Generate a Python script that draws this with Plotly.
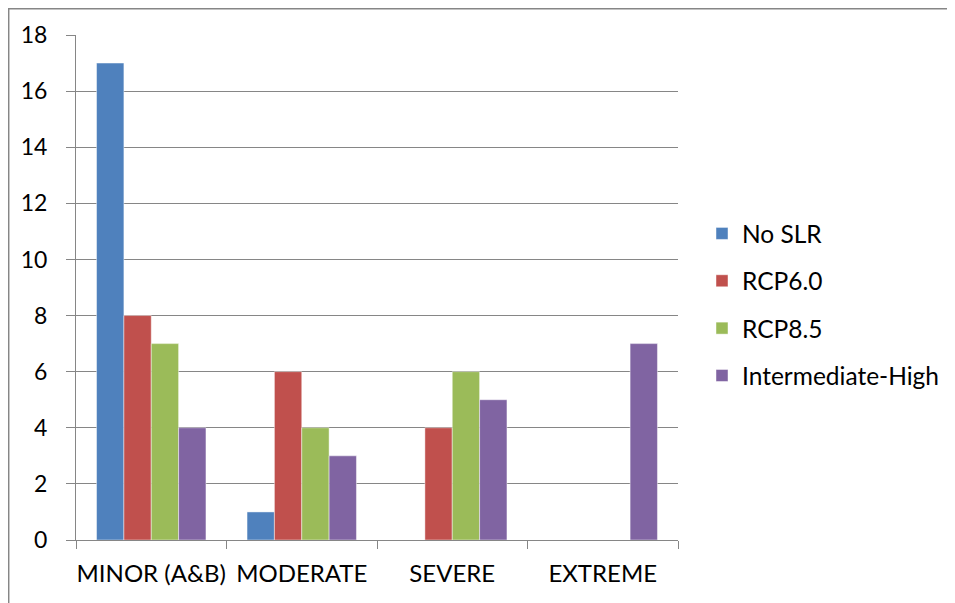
import plotly.graph_objects as go

categories = ["MINOR (A&B)", "MODERATE", "SEVERE", "EXTREME"]
series_names = ["No SLR", "RCP6.0", "RCP8.5", "Intermediate-High"]
no_slr = [17, 1, 0, 0]
rcp60 = [8, 6, 4, 0]
rcp85 = [7, 4, 6, 0]
int_high = [4, 3, 5, 7]
colors = ["#4F81BD", "#C0504D", "#9BBB59", "#8064A2"]
y_ticks = list(range(0, 19, 2))

FONT = "Lato"
fig = go.Figure()
for name, vals, col in zip(series_names, [no_slr, rcp60, rcp85, int_high], colors):
    fig.add_trace(go.Bar(
        x=categories, y=vals, name=name, legendgroup=name,
        marker=dict(color=col, line=dict(color="rgba(255,255,255,0.45)", width=1)),
    ))

# page body has an 8px margin, so figure coordinates = page coordinates - 8
OFF = 8
W, H = 955 - OFF, 603 - OFF
L, T = 76 - OFF, 35 - OFF
R = W - (678 - OFF)
B = H - (540 - OFF)
pw, ph = W - L - R, H - T - B

def px(xp):
    return (xp - OFF - L) / pw

def py(yp):
    return (ph - (yp - OFF - T)) / ph

fig.update_layout(
    width=W, height=H,
    margin=dict(l=L, r=R, t=T, b=B, autoexpand=False),
    paper_bgcolor="white", plot_bgcolor="white",
    barmode="group", bargap=0.273, bargroupgap=0,
    font=dict(family=FONT, size=23, color="black"),
    showlegend=True,
    legend=dict(
        x=px(702), y=py(211), xanchor="left", yanchor="top",
        font=dict(family=FONT, size=24.5, color="black"),
        tracegroupgap=12.5, itemwidth=30,
        bgcolor="rgba(0,0,0,0)",
    ),
    xaxis=dict(
        showline=True, linecolor="#868686", linewidth=1,
        ticks="outside", tickson="boundaries", ticklen=8, tickcolor="#868686",
        tickfont=dict(family=FONT, size=24, color="black"),
        showgrid=False, ticklabelstandoff=12, tickangle=0, automargin=False,
    ),
    yaxis=dict(
        range=[0, 18], tickvals=y_ticks, showline=True, linecolor="#868686", linewidth=1,
        ticks="outside", ticklen=9, tickcolor="#868686",
        showgrid=True, gridcolor="#868686", gridwidth=1,
        zeroline=False, automargin=False,
        tickfont=dict(family=FONT, size=23, color="black"),
        ticklabelstandoff=14,
    ),
    shapes=[dict(
        type="rect", xref="paper", yref="paper",
        x0=px(8.7), x1=px(948),
        y0=py(620), y1=py(8.7),
        line=dict(color="#868686", width=1.5), fillcolor="rgba(0,0,0,0)", layer="below",
    )],
)

fig.write_html("out.html")
